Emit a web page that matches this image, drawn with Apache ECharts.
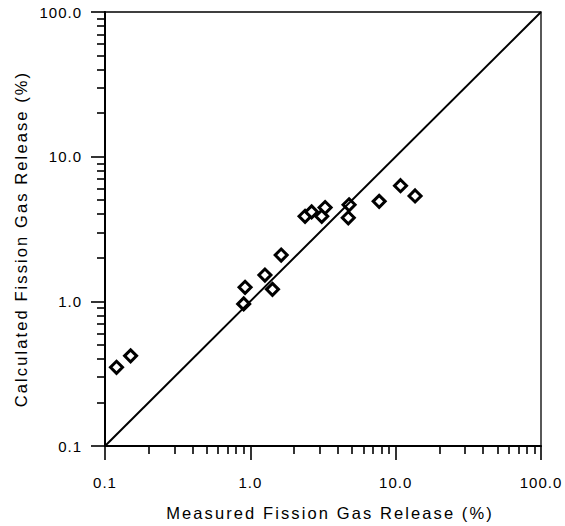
<!DOCTYPE html>
<html>
<head>
<meta charset="utf-8">
<script src="https://cdn.jsdelivr.net/npm/echarts@6/dist/echarts.min.js"></script>
<style>
html,body{margin:0;padding:0;background:#fff;}
#chart{width:565px;height:526px;}
</style>
</head>
<body>
<div id="chart"></div>
<script>
// Measured vs calculated fission gas release (%)
const measured   = [0.12, 0.15, 0.90, 0.92, 1.26, 1.42, 1.63, 2.38, 2.64, 3.10, 3.27, 4.78, 4.72, 7.7, 10.8, 13.6];
const calculated = [0.35, 0.42, 0.96, 1.25, 1.52, 1.21, 2.09, 3.87, 4.15, 3.87, 4.45, 4.65, 3.78, 4.91, 6.3, 5.35];
const identityLine = [0.1, 100];

const majorTicks  = [0.1, 1, 10, 100];
const majorLabels = ['0.1', '1.0', '10.0', '100.0'];
const minorTicks  = [0.2,0.3,0.4,0.5,0.6,0.7,0.8,0.9, 2,3,4,5,6,7,8,9, 20,30,40,50,60,70,80,90];

const xTitle = 'Measured Fission Gas Release (%)';
const yTitle = 'Calculated Fission Gas Release (%)';

const FONT = '"Liberation Sans", Arial, Helvetica, sans-serif';
const labelMap = {};
majorTicks.forEach((v, i) => { labelMap[v] = majorLabels[i]; });
const fmt = v => {
  for (const k of majorTicks) if (Math.abs(Math.log10(v) - Math.log10(k)) < 1e-6) return labelMap[k];
  return '';
};

const chart = echarts.init(document.getElementById('chart'), null, {renderer: 'svg'});

function mainAxis(pos, name) {
  const isX = pos === 'bottom';
  return {
    type: 'log', logBase: 10, min: 0.1, max: 100, position: pos,
    name: name, nameLocation: 'middle',
    nameGap: isX ? 58 : 76,
    nameTextStyle: {fontFamily: FONT, fontSize: 16.5, color: '#000',
      padding: isX ? [0, 0, 0, 14] : [0, 20, 0, 0]},
    axisLine: {show: true, lineStyle: {color: '#000', width: 2}},
    axisTick: {show: true, inside: false, length: 14, lineStyle: {color: '#000', width: 1.6}, customValues: majorTicks},
    axisLabel: {show: true, margin: isX ? 29 : 23, fontFamily: FONT, fontSize: 15, color: '#000',
      customValues: majorTicks, formatter: fmt},
    splitLine: {show: false}, minorTick: {show: false}, minorSplitLine: {show: false}
  };
}
function minorAxis(pos) {
  return {
    type: 'log', logBase: 10, min: 0.1, max: 100, position: pos,
    axisLine: {show: false},
    axisTick: {show: true, inside: false, length: 8, lineStyle: {color: '#000', width: 1.6}, customValues: minorTicks},
    axisLabel: {show: false},
    splitLine: {show: false}
  };
}

chart.setOption({
  animation: false,
  backgroundColor: '#fff',
  grid: {left: 105, top: 12, width: 436, height: 437, show: true, borderColor: '#000', borderWidth: 1.3, backgroundColor: 'transparent'},
  xAxis: [mainAxis('bottom', xTitle), minorAxis('bottom')],
  yAxis: [mainAxis('left', yTitle), minorAxis('left')],
  series: [
    {
      type: 'line', xAxisIndex: 0, yAxisIndex: 0,
      data: identityLine.map(v => [v, v]),
      showSymbol: false, symbol: 'none',
      lineStyle: {color: '#000', width: 2}, silent: true
    },
    {
      type: 'scatter', xAxisIndex: 0, yAxisIndex: 0,
      data: measured.map((m, i) => [m, calculated[i]]),
      symbol: 'diamond', symbolSize: 12,
      itemStyle: {color: '#fff', borderColor: '#000', borderWidth: 3, opacity: 1}
    }
  ]
});

// letter spacing to mimic the typesetting of the original
document.querySelectorAll('#chart text').forEach(t => {
  const s = t.textContent;
  if (s === xTitle || s === yTitle) t.setAttribute('letter-spacing', '2.1');
  else t.setAttribute('letter-spacing', '1');
});
</script>
</body>
</html>
